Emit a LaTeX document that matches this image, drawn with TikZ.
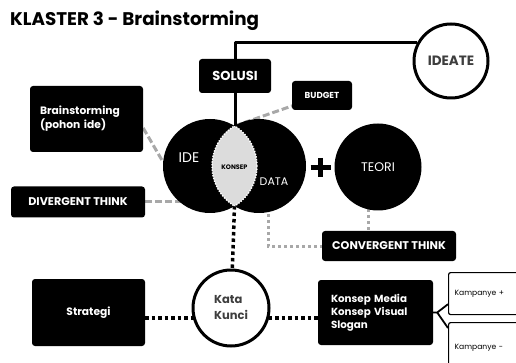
\documentclass[tikz,border=0pt]{standalone}
\usepackage{fontspec}
\setmainfont{Poppins}
\usetikzlibrary{calc,backgrounds}
\definecolor{klastergray}{RGB}{168,168,168}
\definecolor{konsepgray}{RGB}{220,220,220}
\definecolor{inkgray}{RGB}{62,62,62}

\begin{document}
\begin{tikzpicture}[x=1pt,y=-1pt,line join=round,
 blackbox/.style={fill=black,rounded corners=3pt,text=white,inner sep=0pt,
  font=\fontsize{11.2}{13}\selectfont\bfseries},
 disc/.style={circle,fill=black,inner sep=0pt},
 ring/.style={circle,draw=black,fill=white,line width=3pt,inner sep=0pt,text=inkgray},
 whitebox/.style={draw=black,line width=1.2pt,rounded corners=2pt,fill=white,
  inner sep=0pt,anchor=north west,align=left,font=\fontsize{7.6}{9}\selectfont},
 disctext/.style={text=white,inner sep=0pt},
 greydash/.style={klastergray,line width=3pt,dash pattern=on 7pt off 3pt},
 greydot/.style={klastergray,line width=3pt,dash pattern=on 3pt off 3pt},
 blackdot/.style={black,line width=3.5pt,dash pattern=on 3.5pt off 3pt},
 lensedge/.style={white,line width=1.4pt,dash pattern=on 1.4pt off 1.4pt}]
 \useasboundingbox (0,0) rectangle (516,363);
 \node[anchor=base west,inner sep=0pt,font=\fontsize{18.3}{22}\selectfont\bfseries]
  (judul) at (10,26) {KLASTER 3 - Brainstorming};
 \node[blackbox,minimum width=72pt,minimum height=34pt,
  font=\fontsize{13}{15}\selectfont\bfseries] (solusi) at (235,76) {SOLUSI};
 \node[ring,minimum size=74pt,font=\fontsize{13.5}{15}\selectfont\bfseries]
  (ideate) at (451,61) {IDEATE};
 \node[blackbox,minimum width=60pt,minimum height=29pt,
  font=\fontsize{8.7}{10}\selectfont\bfseries] (budget) at (322,95.5) {BUDGET};
 \node[blackbox,minimum height=66pt,text width=93pt,inner xsep=10pt,align=left,
  font=\fontsize{10.7}{14}\selectfont\bfseries] (brain) at (86.5,119)
  {Brainstorming\\(pohon ide)};
 \node[blackbox,minimum width=134pt,minimum height=31pt] (diverg) at (78,202)
  {DIVERGENT THINK};
 \node[disc,minimum size=94pt] (ide) at (210,166) {};
 \node[disc,minimum size=94pt] (data) at (259,166) {};
 \node[disc,minimum size=87pt,text=white,font=\fontsize{12.5}{14}\selectfont]
  (teori) at (378,167) {TEORI};
 \node[blackbox,minimum width=134pt,minimum height=30pt] (converg) at (389,246)
  {CONVERGENT THINK};
 \node[blackbox,minimum width=113pt,minimum height=67pt,
  font=\fontsize{10.7}{12}\selectfont\bfseries] (strategi) at (88.5,312.5) {Strategi};
 \node[ring,minimum size=76pt,align=left,font=\fontsize{11.5}{16}\selectfont\bfseries]
  (kata) at (231,308) {Kata\\Kunci};
 \node[blackbox,minimum height=65pt,text width=89pt,inner xsep=13pt,align=left,
  font=\fontsize{10.3}{13}\selectfont\bfseries] (konsep) at (375.5,312.5)
  {Konsep Media\\Konsep Visual\\Slogan};
 \node[whitebox,minimum width=90pt,minimum height=42pt,text width=80pt,inner xsep=6pt]
  (kplus) at (448,272) {Kampanye +};
 \node[whitebox,minimum width=90pt,minimum height=50pt,text width=80pt,inner xsep=6pt]
  (kminus) at (448,322) {Kampanye -};

 \coordinate (lenstop) at (234.5,126);
 \coordinate (lensbot) at (234.5,206);
 \coordinate (dotrow) at (0,318);
 \coordinate (tfoot) at ($(teori.center)+(-10,0)$);
 \coordinate (plus) at (320.5,167.5);

 \begin{scope}
  \clip (ide.center) circle (47pt);
  \fill[konsepgray] (data.center) circle (47pt);
  \draw[lensedge] (data.center) circle (47pt);
 \end{scope}
 \begin{scope}
  \clip (data.center) circle (47pt);
  \draw[lensedge] (ide.center) circle (47pt);
 \end{scope}
 \node[disctext,font=\fontsize{14}{16}\selectfont] (idelbl) at (189,158) {IDE};
 \node[disctext,font=\fontsize{11}{13}\selectfont] (datalbl) at (274,182) {DATA};
 \node[inner sep=0pt,font=\fontsize{6.5}{7}\selectfont\bfseries] (konseplbl)
  at (234.5,167) {KONSEP};
 \draw[line width=4.5pt] ($(plus)+(-10,0)$) -- ($(plus)+(10,0)$)
  ($(plus)+(0,-9.5)$) -- ($(plus)+(0,9.5)$);

 \draw[line width=3pt] (solusi.north) |- (ideate.152);
 \draw[line width=3pt] (solusi.south) -- (solusi.south |- lenstop);
 \draw[line width=1.8pt] (konsep.east) -- ++(4,0) coordinate (fork)
  -- ([yshift=11pt]kplus.south west);
 \draw[line width=1.8pt] (fork) -- ([yshift=-6pt]kminus.north west);
 \begin{scope}[on background layer]
  \draw[greydash] ($(brain.east)+(0,9)$) -- (ide.175);
  \draw[greydash] (diverg.east) -- (diverg.east -| ide.center);
  \draw[greydash] (lenstop) -- (budget.center);
  \draw[greydot] ($(data.center)+(9,0)$) |- (converg.west);
  \draw[greydot] (tfoot) -- (tfoot |- converg.north);
  \draw[blackdot] (lensbot) -- (kata.center);
  \draw[blackdot] (strategi.east |- dotrow) -- (konsep.west |- dotrow);
 \end{scope}
\end{tikzpicture}
\end{document}
